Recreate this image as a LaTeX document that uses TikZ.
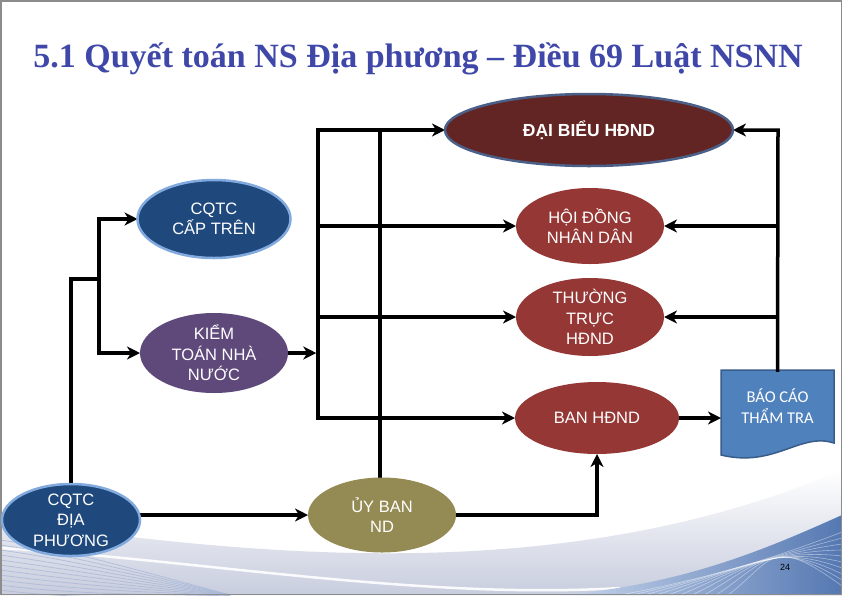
\documentclass[tikz,border=0pt]{standalone}
\usepackage{fontspec}
\setmainfont{Liberation Sans}
\newfontfamily\titlefont{Liberation Serif}
\newfontfamily\calfont{Carlito}
\usetikzlibrary{shapes.geometric,arrows.meta}
\definecolor{titleblue}{RGB}{63,72,168}
\definecolor{maroondark}{RGB}{99,37,35}
\definecolor{dbborder}{RGB}{74,96,137}
\definecolor{hdred}{RGB}{149,55,53}
\definecolor{navy}{RGB}{31,73,125}
\definecolor{lightrim}{RGB}{130,170,222}
\definecolor{ktpurple}{RGB}{95,73,122}
\definecolor{olive}{RGB}{148,138,84}
\definecolor{docfill}{RGB}{79,129,189}
\definecolor{docrim}{RGB}{56,93,138}
\definecolor{swgray}{RGB}{200,205,222}
\definecolor{swblue}{RGB}{85,120,178}
\definecolor{swlight}{RGB}{200,214,236}
\definecolor{stripe}{RGB}{170,185,215}
\definecolor{framegray}{RGB}{140,140,140}
\pgfdeclarelayer{back0}
\pgfdeclarelayer{background}
\pgfsetlayers{back0,background,main}
\begin{document}
\begin{tikzpicture}[x=1pt,y=-1pt,
  ell/.style={ellipse, inner sep=0pt, outer sep=0pt},
  txt/.style={text=white, align=center, inner sep=0pt, font=\fontsize{16.5}{20.5}\selectfont},
  conn/.style={line width=3.5pt, black, line cap=rect},
  arr/.style={conn, -{Stealth[length=13pt,width=13pt,inset=4pt]}},
  rimmed/.style={draw=lightrim, line width=2.5pt}]
\useasboundingbox (0,0) rectangle (842,595);
\begin{pgfonlayer}{back0}
  \fill[white] (0,0) rectangle (842,595);
  \shade[top color=white, bottom color=swgray] (0,520) .. controls (250,555) and (560,590) .. (842,470) -- (842,595) -- (0,595) -- cycle;
  \draw[white, line width=2.5pt, opacity=0.9] (0,548) .. controls (200,560) and (420,600) .. (620,588);
  \shade[left color=swlight, right color=swblue] (560,595) .. controls (680,585) and (760,552) .. (842,515) -- (842,595) -- cycle;
  \foreach \k in {0,...,9}
    \draw[white, opacity=0.45, line width=0.6pt] (620+\k*12,595) .. controls (700+\k*8,580-\k*2) and (770,560-\k*3) .. (842,532+\k*6);
  \foreach \k in {0,...,10}
    \draw[stripe, opacity=0.8, line width=0.8pt] (0,540+\k*5) .. controls (60,548+\k*5) and (130,568+\k*3) .. (230,595);
  \draw[framegray, line width=1.5pt] (0.75,0.75) rectangle (841.25,594.25);
\end{pgfonlayer}

% title
\node[anchor=base, text=titleblue, inner sep=0pt, font=\titlefont\bfseries\fontsize{34}{40}\selectfont] (title) at (418,67) {5.1 Quyết toán NS Địa phương – Điều 69 Luật NSNN};

% nodes
\node[ell, fill=maroondark, draw=dbborder, line width=2.5pt, minimum width=288pt, minimum height=72pt,
  label={[txt, font=\bfseries\fontsize{17.5}{20}\selectfont]center:ĐẠI BIỂU HĐND}] (daibieu) at (589,130) {};
\node[ell, fill=hdred, minimum width=148pt, minimum height=76pt,
  label={[txt]center:{HỘI ĐỒNG\\NHÂN DÂN}}] (hoidong) at (590,226) {};
\node[ell, fill=hdred, minimum width=148pt, minimum height=78pt,
  label={[txt]center:{THƯỜNG\\TRỰC\\HĐND}}] (thuongtruc) at (590,317) {};
\node[ell, fill=hdred, minimum width=164pt, minimum height=72pt,
  label={[txt]center:BAN HĐND}] (ban) at (597,418) {};
\node[ell, fill=navy, rimmed, minimum width=153pt, minimum height=78pt,
  label={[txt]center:{CQTC\\CẤP TRÊN}}] (cqtctren) at (214,219) {};
\node[ell, fill=ktpurple, minimum width=148pt, minimum height=80pt,
  label={[txt]center:{KIỂM\\TOÁN NHÀ\\NƯỚC}}] (ktnn) at (214,353) {};
\node[ell, fill=navy, rimmed, minimum width=138pt, minimum height=72pt,
  label={[txt]center:{CQTC\\ĐỊA\\PHƯƠNG}}] (cqtcdp) at (71,520) {};
\node[ell, fill=olive, minimum width=148pt, minimum height=75pt,
  label={[txt]center:{ỦY BAN\\ND}}] (uyban) at (382,515) {};
\node[rectangle, inner sep=0pt, outer sep=0pt, minimum width=113pt, minimum height=73pt,
  text=white, align=center, font=\calfont\fontsize{16.5}{21}\selectfont] (baocao) at (777.5,406.5) {BÁO CÁO\\THẨM TRA};
\begin{pgfonlayer}{background}
  \filldraw[fill=docfill, draw=docrim, line width=1.5pt] (baocao.north west) -- (baocao.north east) -- (baocao.south east)
    .. controls (800,432) and (775,468) .. (721,455) -- cycle;
\end{pgfonlayer}
\node[inner sep=0pt, font=\fontsize{9}{9}\selectfont] (pagenum) at (785,567) {24};

% junction points
\coordinate (b1top) at (318,130);
\coordinate (b2top) at (380,130);
\coordinate (lj) at (99,279);
\coordinate (rtop) at (778,130);

\begin{pgfonlayer}{background}
  % left feed from CQTC dia phuong
  \draw[conn] (cqtcdp.north) |- (lj);
  \draw[arr] (lj) |- (cqtctren.west);
  \draw[arr] (lj) |- (ktnn.west);
  % bus 1
  \draw[arr] (ban.west -| b1top) -- (b1top) -- (daibieu.west);
  \draw[arr] (ban.west -| b1top) -- (ban.west);
  \draw[arr] (hoidong.west -| b1top) -- (hoidong.west);
  \draw[arr] (thuongtruc.west -| b1top) -- (thuongtruc.west);
  \draw[arr, shorten >=1.75pt] (ktnn.east) -- (ktnn.east -| b1top);
  % bus 2 from UBND
  \draw[conn] (uyban.north -| b2top) -- (b2top);
  % bottom row
  \draw[arr] (cqtcdp.east |- uyban.west) -- (uyban.west);
  \draw[arr] (uyban.east) -| (ban.south);
  \draw[arr] (ban.east) -- (baocao.west |- ban.east);
  % right side from report
  \draw[arr] (baocao.north) -- (rtop) -- (daibieu.east);
  \draw[arr] (baocao.north |- hoidong.east) -- (hoidong.east);
  \draw[arr] (baocao.north |- thuongtruc.east) -- (thuongtruc.east);
\end{pgfonlayer}
\end{tikzpicture}
\end{document}
